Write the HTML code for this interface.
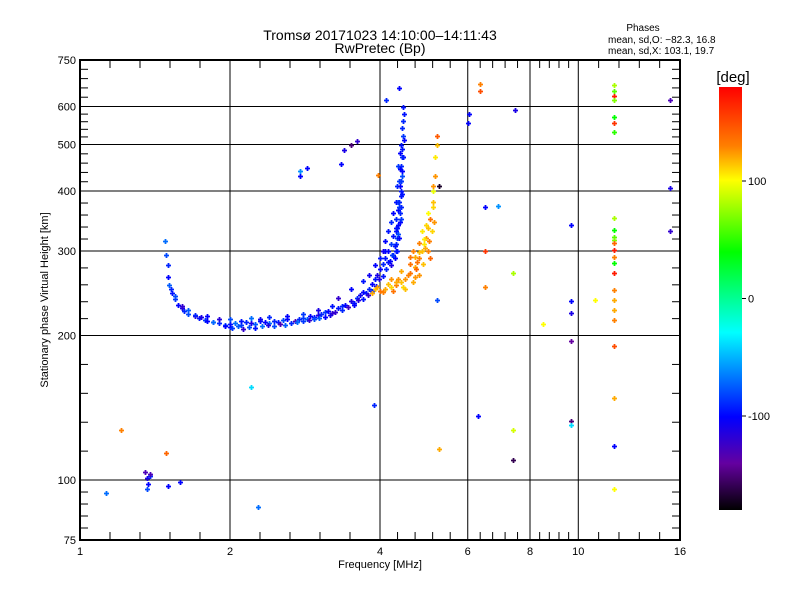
<!DOCTYPE html>
<html><head><meta charset="utf-8"><style>
body{margin:0;background:#fff;}
svg text{font-family:"Liberation Sans",sans-serif;fill:#000;}
</style></head><body>
<svg id="c" width="800" height="600" xmlns="http://www.w3.org/2000/svg">
<rect width="800" height="600" fill="#fff"/>
<text x="380" y="40" font-size="14" text-anchor="middle">Tromsø 20171023 14:10:00–14:11:43</text>
<text x="380" y="53" font-size="14" text-anchor="middle">RwPretec (Bp)</text>
<text x="643" y="31" font-size="10" text-anchor="middle">Phases</text>
<text x="608" y="43" font-size="10">mean, sd,O: −82.3, 16.8</text>
<text x="608" y="54" font-size="10">mean, sd,X: 103.1, 19.7</text>
<g id="grid"></g>
<g id="pts"></g>
<g id="axes"></g>
<text x="380" y="568" font-size="11" text-anchor="middle">Frequency [MHz]</text>
<text transform="translate(48,300) rotate(-90)" font-size="11" text-anchor="middle">Stationary phase Virtual Height [km]</text>
<defs><linearGradient id="cg" x1="0" y1="0" x2="0" y2="1">
<stop offset="0" stop-color="#ff0000"/><stop offset="0.14" stop-color="#ff8000"/><stop offset="0.22" stop-color="#ffff00"/><stop offset="0.39" stop-color="#00ff00"/><stop offset="0.58" stop-color="#00ffff"/><stop offset="0.78" stop-color="#0000ff"/><stop offset="0.89" stop-color="#6400a0"/><stop offset="1" stop-color="#000000"/>
</linearGradient></defs>
<rect x="719" y="87" width="23" height="423" fill="url(#cg)"/>
<text x="733" y="82" font-size="15" text-anchor="middle">[deg]</text>
<g id="cb"></g>
</svg>
<script>
const NS="http://www.w3.org/2000/svg";
// O trace
const oFreq=[1.48,1.49,1.5,1.5,1.51,1.52,1.53,1.55,1.57,1.6,1.62,1.65,1.7,1.73,1.78,1.8,1.85,1.9,1.95,2.0,2.0,2.05,2.1,2.15,2.2,2.25,2.3,2.35,2.4,2.45,2.5,2.55,2.6,2.7,2.75,2.8,2.85,2.9,2.95,3.0,3.05,3.1,3.15,3.2,3.3,3.35,3.4,3.5,3.55,3.6,3.65,3.7,3.75,3.8,3.85,3.9,3.95,4.0,4.05,4.1,4.15,4.2,4.25,4.3,4.3,4.35,4.35,4.4,4.4,4.42,4.45,4.45,4.46,
 1.8,1.9,2.0,2.1,2.2,2.3,2.4,2.6,2.8,3.0,3.2,3.3,3.5,3.7,3.8,3.9,4.0,4.05,4.1,4.15,4.2,4.25,4.3,4.32,4.35,4.38,4.4,4.42,4.45,
 4.3,4.32,4.35,4.38,4.4,4.42,4.44,4.3,4.33,4.36,4.39,4.41,4.43,4.45,4.28,4.31,4.37,4.41,4.46,4.2,4.25,4.1,4.15,
 1.55,1.6,1.65,1.7,1.75,1.85,1.95,2.02,2.08,2.12,2.18,2.25,2.32,2.38,2.45,2.52,2.58,2.65,2.72,2.8,2.88,2.95,3.02,3.1,3.18,3.25,3.35,3.45,3.55,3.62,3.7,3.78,3.85,3.92,3.98,4.05,4.12,4.18,4.22,4.28,4.34,4.38,4.4,4.43,4.36,4.39,4.42,4.33,4.37,4.41];
const oHeight=[315,295,280,265,255,250,245,238,232,228,225,222,220,218,215,214,213,212,210,211,208,212,210,213,212,211,214,213,212,214,213,215,216,214,217,218,216,220,219,221,222,224,225,223,228,230,232,236,234,240,243,247,245,250,256,262,268,275,282,290,300,310,322,335,350,365,380,400,420,440,470,520,580,
 220,216,217,214,218,216,219,220,222,226,230,240,250,260,268,280,290,300,315,330,345,360,380,410,450,480,500,540,600,
 300,320,340,360,390,430,470,310,335,370,410,450,490,560,290,330,380,420,510,280,295,300,285,
 242,230,226,221,219,213,209,207,209,206,208,207,209,210,209,211,210,212,213,214,215,217,218,219,221,224,226,229,232,237,238,243,248,254,262,266,275,286,295,308,325,345,370,395,420,445,470,300,320,350];
const oPhase=[-70,-80,-90,-100,-75,-90,-95,-85,-100,-110,-90,-80,-120,-95,-85,-100,-110,-90,-80,-95,-100,-70,-85,-90,-110,-75,-95,-100,-70,-90,-95,-80,-100,-130,-90,-85,-75,-100,-95,-110,-90,-85,-100,-120,-95,-90,-100,-110,-95,-90,-105,-100,-95,-90,-100,-95,-110,-100,-90,-95,-100,-85,-95,-100,-90,-100,-80,-95,-90,-100,-95,-85,-95,
 -100,-115,-80,-95,-70,-105,-90,-100,-85,-110,-95,-120,-100,-95,-105,-100,-95,-110,-100,-95,-90,-100,-95,-90,-85,-100,-95,-90,-95,
 -95,-85,-100,-90,-95,-80,-100,-90,-95,-85,-100,-90,-95,-90,-100,-95,-90,-85,-100,-110,-95,-100,-95,
 -80,-120,-75,-90,-110,-70,-100,-85,-75,-120,-80,-95,-70,-110,-80,-130,-75,-90,-70,-85,-120,-80,-75,-100,-110,-120,-90,-125,-100,-115,-95,-120,-90,-100,-110,-95,-90,-100,-85,-95,-80,-100,-90,-95,-85,-100,-90,-95,-100,-85];
// X trace
const xFreq=[3.85,3.9,4.0,4.1,4.2,4.3,4.4,4.5,4.6,4.7,4.8,4.85,4.9,4.95,5.0,5.05,5.1,5.1,5.15,5.15,5.2,5.2,
 4.2,4.4,4.6,4.8,4.9,5.0,5.05,4.5,4.7,4.75,4.95,5.0,5.1,5.12,4.3,4.65,4.85,
 3.95,4.05,4.15,4.25,4.35,4.45,4.55,4.65,4.72,4.78,4.88,4.92,5.02,5.08,5.14,4.6,4.7,4.8];
const xHeight=[245,250,248,250,252,255,258,262,270,278,290,300,310,320,335,350,370,400,430,470,500,520,
 262,272,282,298,318,300,290,250,265,285,340,360,380,410,258,300,330,
 252,246,256,248,262,252,268,258,275,268,282,305,315,330,345,292,292,312];
const xPhase=[120,115,135,120,110,130,115,125,135,120,130,115,105,125,115,135,110,95,125,105,115,145,
 125,120,135,115,105,130,140,115,125,135,110,100,115,125,120,130,105,
 120,130,115,135,125,110,130,120,140,125,115,120,130,110,125,135,120,130];
// Scattered echoes
const sFreq=[1.13,1.21,1.35,1.36,1.37,1.38,1.36,1.38,1.49,1.5,1.59,2.28,2.2,2.76,2.76,2.85,3.34,3.38,3.5,3.6,3.96,3.89,4.11,4.36,5.25,5.25,5.2,6.35,6.35,6.04,6.0,7.46,6.5,6.9,6.5,6.5,7.4,8.5,9.67,9.67,9.67,9.67,9.67,9.67,7.4,7.4,6.3,10.8,
 11.8,11.8,11.8,11.8,11.8,11.8,11.8,11.8,11.8,11.8,11.8,11.8,11.8,11.8,11.8,11.8,11.8,11.8,11.8,11.8,11.8,11.8,11.8,11.8,15.3,15.3,15.3];
const sHeight=[94,127,104,101,98,102,96,103,114,97,99,88,156,441,430,446,455,486,500,508,433,143,620,655,410,116,237,670,645,580,555,590,370,373,300,253,270,211,236,223,195,133,130,340,110,127,136,237,
 665,645,630,618,570,554,531,351,332,321,316,312,301,292,283,270,249,237,226,215,190,148,118,96,620,405,330];
const sPhase=[-70,130,-130,-110,-100,-90,-80,-130,140,-100,-100,-70,-40,-60,-100,-100,-100,-110,-150,-120,130,-90,-90,-100,-170,120,-80,130,150,-100,-100,-110,-100,-60,160,130,80,100,-100,-110,-140,-150,-40,-100,-160,90,-100,100,
 80,60,170,70,40,160,50,80,40,60,70,140,170,130,40,170,130,120,120,130,150,120,-100,100,-130,-110,-120];

const X0=80,X1=680,Y0=540,Y1=60;
const xs=f=>X0+(X1-X0)*Math.log2(f)/4;
const ys=h=>Y0-(Y0-Y1)*Math.log10(h/75);
const stops=[[180,[255,0,0]],[130,[255,128,0]],[100,[255,255,0]],[40,[0,255,0]],[-30,[0,255,255]],[-100,[0,0,255]],[-140,[100,0,160]],[-180,[0,0,0]]];
function col(p){for(let i=0;i<stops.length-1;i++){const a=stops[i],b=stops[i+1];if(p<=a[0]&&p>=b[0]){const t=(a[0]-p)/(a[0]-b[0]);return 'rgb('+a[1].map((v,k)=>Math.round(v+(b[1][k]-v)*t)).join(',')+')';}}return p>180?'rgb(255,0,0)':'#000';}
function mk(tag,at,par){const e=document.createElementNS(NS,tag);for(const k in at)e.setAttribute(k,at[k]);par.appendChild(e);return e;}
const grid=document.getElementById('grid'),axes=document.getElementById('axes'),pts=document.getElementById('pts');
const xMajor=[1,2,4,6,8,10,16];
const xLabels=['1','2','4','6','8','10','16'];
const yMajor=[75,100,200,300,400,500,600,750];
const yLabels=['75','100','200','300','400','500','600','750'];
yMajor.forEach((v,i)=>{const y=ys(v);
 const l=mk('line',{x1:X0,x2:X1,y1:y,y2:y,stroke:'#000','stroke-width':1},grid);
 
 const t=mk('text',{x:76,y:y+4,'font-size':11,'text-anchor':'end'},axes);t.textContent=yLabels[i];
 
 if(i<yMajor.length-1){const y2=ys(yMajor[i+1]);for(let k=1;k<5;k++){const yy=y+(y2-y)*k/5;
  mk('line',{x1:X0,x2:X0+8,y1:yy,y2:yy,stroke:'#000'},axes);mk('line',{x1:X1-8,x2:X1,y1:yy,y2:yy,stroke:'#000'},axes);}}
});
xMajor.forEach((v,i)=>{const x=xs(v);
 if(i>0&&i<xMajor.length-1){const l=mk('line',{x1:x,x2:x,y1:Y1,y2:Y0,stroke:'#000','stroke-width':1},grid);
 }
 const t=mk('text',{x:x,y:555,'font-size':11,'text-anchor':'middle'},axes);t.textContent=xLabels[i];
 
 if(i<xMajor.length-1){const x2=xs(xMajor[i+1]);for(let k=1;k<5;k++){const xx=x+(x2-x)*k/5;
  mk('line',{x1:xx,x2:xx,y1:Y0,y2:Y0-8,stroke:'#000'},axes);mk('line',{x1:xx,x2:xx,y1:Y1,y2:Y1+8,stroke:'#000'},axes);}}
});
const fr=mk('rect',{x:X0,y:Y1,width:X1-X0,height:Y0-Y1,fill:'none',stroke:'#000','stroke-width':2},axes);

function plot(F,H,P,name){for(let i=0;i<F.length;i++){const x=Math.round(xs(F[i]))+0.5,y=Math.round(ys(H[i]))+0.5;
 const p=mk('path',{d:`M${x-2.5},${y}h5M${x},${y-2.5}v5`,stroke:col(P[i]),'stroke-width':1.8},pts);
 }}
plot(oFreq,oHeight,oPhase,'o-trace-point');
plot(xFreq,xHeight,xPhase,'x-trace-point');
plot(sFreq,sHeight,sPhase,'scatter-point');
const cb=document.getElementById('cb');
const cbTicks=[100,0,-100];
cbTicks.forEach(v=>{const y=87+(180-v)/360*423;
 mk('line',{x1:742,x2:746,y1:y,y2:y,stroke:'#000'},cb);
 const t=mk('text',{x:748,y:y+4,'font-size':11},cb);t.textContent=String(v);
 });
</script>
</body></html>
